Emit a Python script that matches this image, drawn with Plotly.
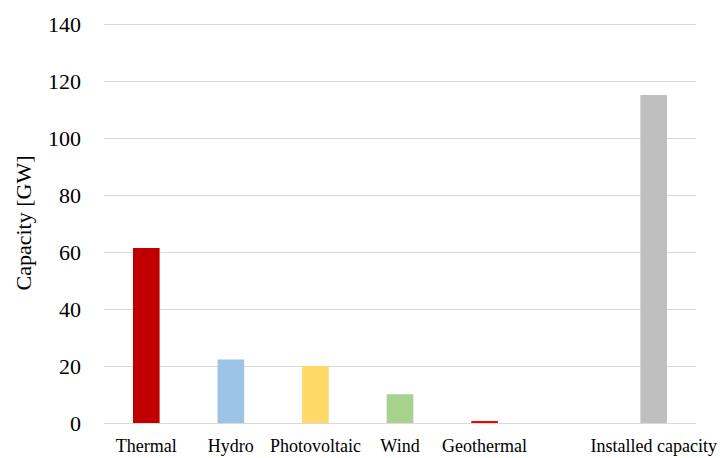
import plotly.graph_objects as go

categories = ["Thermal", "Hydro", "Photovoltaic", "Wind", "Geothermal", " ", "Installed capacity"]
values = [61.4, 22.3, 20.0, 10.1, 0.7, None, 115.1]
colors = ["#C00000", "#9DC3E6", "#FFD966", "#A9D18E", "#FF0000", "#FFFFFF", "#BFBFBF"]
y_ticks = [0, 20, 40, 60, 80, 100, 120, 140]

fig = go.Figure(go.Bar(x=categories, y=values, marker=dict(color=colors, line=dict(width=0)),
                       width=0.315))

font_family = "Liberation Serif"
fig.update_layout(
    width=722, height=458,
    margin=dict(l=104, r=26, t=23, b=35),
    paper_bgcolor="white", plot_bgcolor="white",
    showlegend=False,
    font=dict(family=font_family, color="#000000"),
)
fig.update_xaxes(
    type="category", categoryorder="array", categoryarray=categories,
    range=[-0.5, 6.5], showgrid=False, showline=False, zeroline=False,
    tickfont=dict(size=18, family=font_family, color="#000000"),
    ticks="", ticklabelstandoff=10, automargin=False,
)
fig.update_yaxes(
    range=[0, 140.4], tickvals=y_ticks, showgrid=True, gridcolor="#D9D9D9", gridwidth=1.2,
    zeroline=True, zerolinecolor="#D9D9D9", zerolinewidth=1.2, showline=False,
    tickfont=dict(size=22, family=font_family, color="#000000"),
    ticks="", ticklabelstandoff=22,
    title=dict(text="Capacity [GW]", font=dict(size=22, family=font_family, color="#000000"), standoff=10),
    automargin=False,
)
fig.write_html("out.html")
